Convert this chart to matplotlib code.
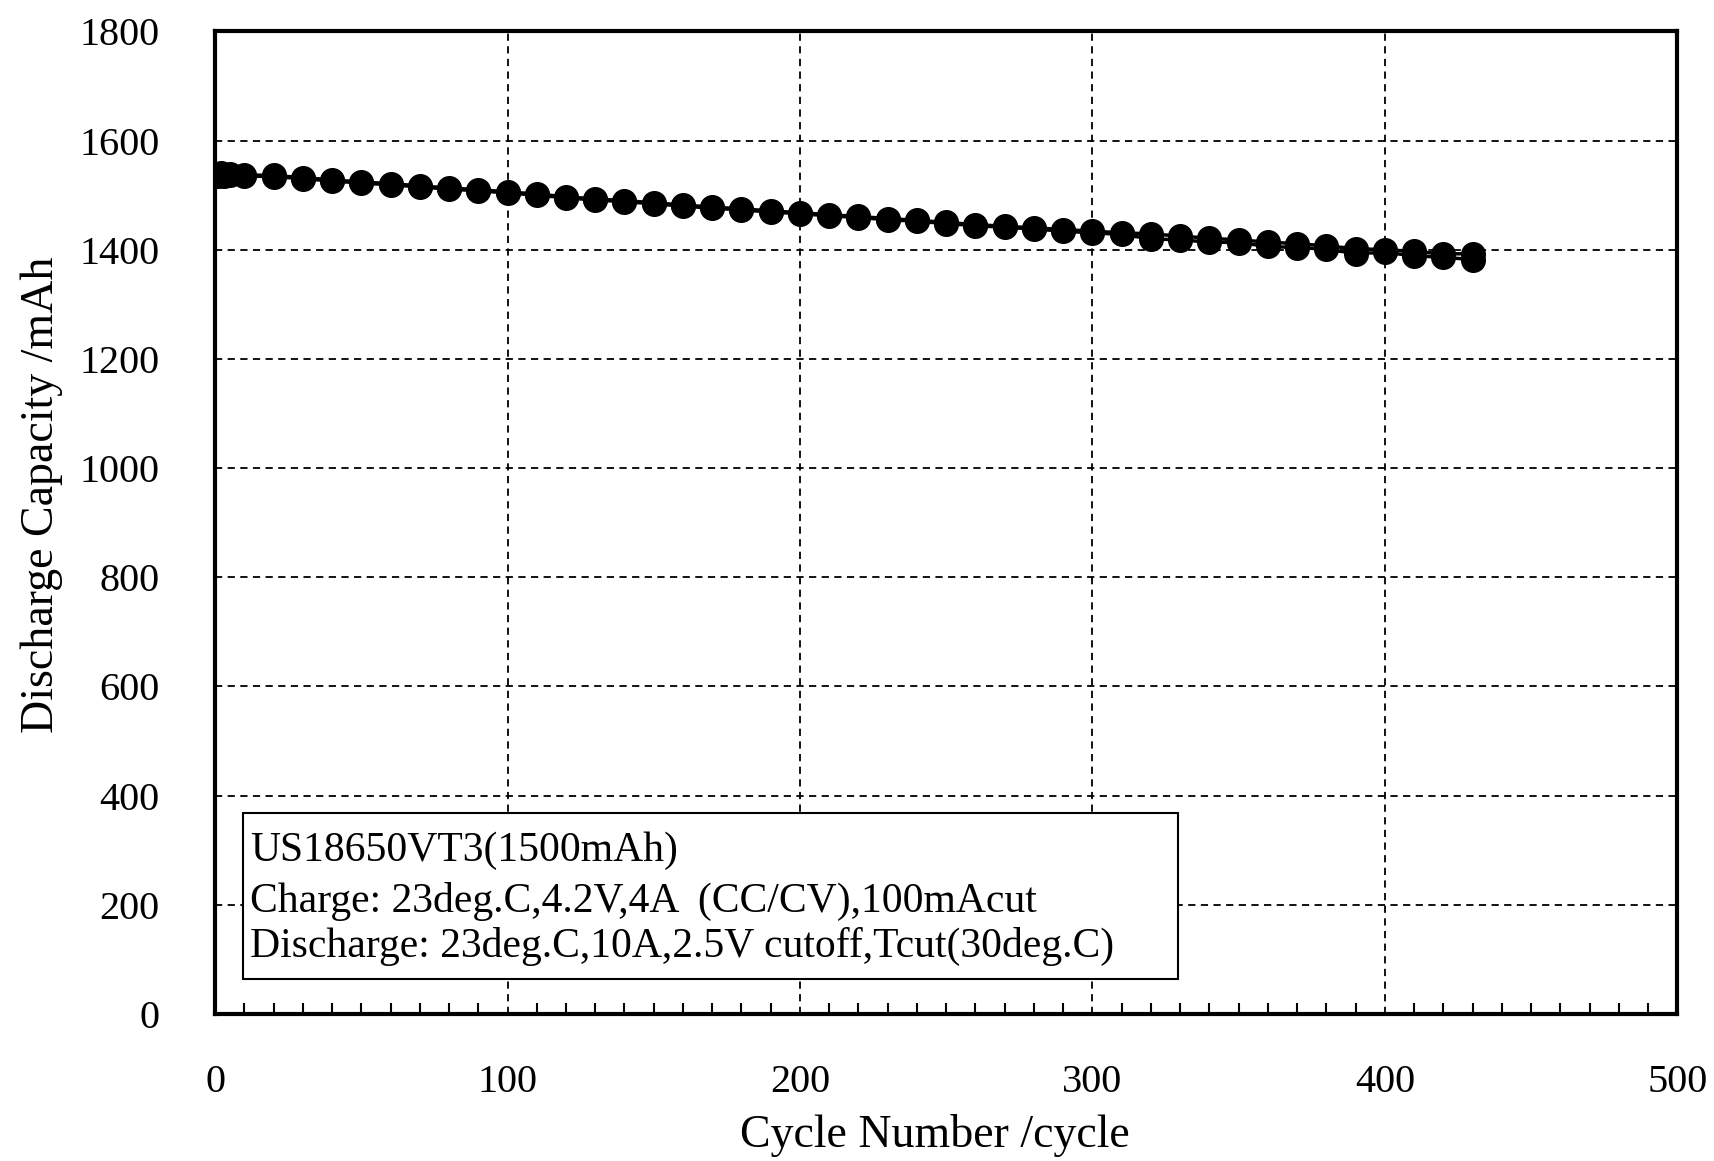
import matplotlib
matplotlib.use("Agg")
import matplotlib.pyplot as plt
from matplotlib.patches import Rectangle
from matplotlib.ticker import MultipleLocator

plt.rcParams['font.family'] = ['Liberation Serif', 'DejaVu Serif']

cycles = [1, 2, 3, 5, 10, 20, 30, 40, 50, 60, 70, 80, 90, 100, 110, 120, 130, 140, 150,
          160, 170, 180, 190, 200, 210, 220, 230, 240, 250, 260, 270, 280, 290, 300,
          310, 320, 330, 340, 350, 360, 370, 380, 390, 400, 410, 420, 430]
cap_a = [1538, 1540, 1537, 1539, 1537, 1536, 1532, 1528, 1524, 1521, 1517, 1513, 1510, 1506,
         1502, 1497, 1493, 1490, 1486, 1482, 1478, 1475, 1471, 1468, 1464, 1461, 1457, 1454,
         1450, 1446, 1443, 1440, 1437, 1434, 1431, 1429, 1425, 1421, 1418, 1414, 1411, 1407,
         1402, 1400, 1397, 1392, 1393]
cap_b = [1535, 1537, 1535, 1536, 1535, 1534, 1530, 1526, 1522, 1519, 1515, 1511, 1508, 1504,
         1500, 1495, 1491, 1488, 1484, 1480, 1476, 1473, 1469, 1466, 1462, 1459, 1455, 1452,
         1448, 1444, 1441, 1438, 1434, 1431, 1428, 1420, 1418, 1414, 1413, 1406, 1404, 1401,
         1393, 1395, 1389, 1386, 1382]

info_lines = ["US18650VT3(1500mAh)",
              "Charge: 23deg.C,4.2V,4A  (CC/CV),100mAcut",
              "Discharge: 23deg.C,10A,2.5V cutoff,Tcut(30deg.C)"]

fig = plt.figure(figsize=(17.15, 11.61), dpi=100)
ax = fig.add_axes([0.1254, 0.1266, 0.978 - 0.1254, 0.973 - 0.1266])

for cap in (cap_b, cap_a):
    ax.plot(cycles, cap, color='black', lw=2.5, marker='o', markersize=17,
            markerfacecolor='black', markeredgecolor='black', zorder=3)

ax.set_xlim(0, 500)
ax.set_ylim(0, 1800)
ax.xaxis.set_major_locator(MultipleLocator(100))
ax.xaxis.set_minor_locator(MultipleLocator(10))
ax.yaxis.set_major_locator(MultipleLocator(200))
ax.grid(True, which='major', color='black', linestyle=(0, (4, 3)), linewidth=1.3)
ax.tick_params(axis='both', which='major', direction='in', length=0, labelsize=29,
               width=1.5)
ax.tick_params(axis='x', which='major', pad=36)
ax.tick_params(axis='y', which='major', pad=40)
ax.tick_params(axis='x', which='minor', direction='in', length=8, width=1.5)
for s in ax.spines.values():
    s.set_linewidth(3)

ax.set_xlabel("Cycle Number /cycle", fontsize=33, labelpad=9)
ax.set_ylabel("Discharge Capacity /mAh", fontsize=33, labelpad=12)
ax.xaxis.label.set_x(0.4925)
ax.yaxis.label.set_y(0.528)

box = Rectangle((0.0192, 0.0356), 0.6394, 0.1691, transform=ax.transAxes,
                facecolor='white', edgecolor='black', linewidth=1.5, zorder=4)
ax.add_patch(box)
ys = [0.166, 0.1145, 0.069]
for t, yy in zip(info_lines, ys):
    ax.text(0.0239, yy, t, transform=ax.transAxes, fontsize=30, ha='left',
            va='center', zorder=5)

fig.savefig("out.png", dpi=100)
